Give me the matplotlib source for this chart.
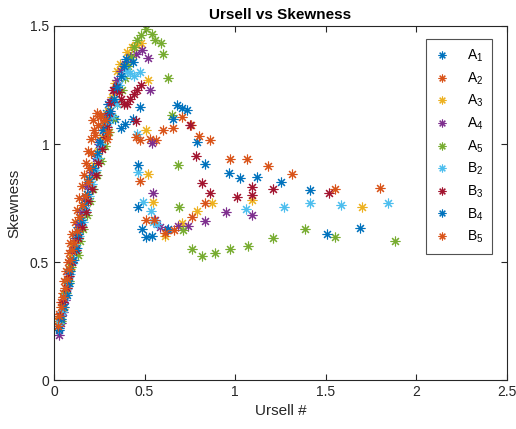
import matplotlib
matplotlib.use("Agg")
import matplotlib.pyplot as plt

plt.rcParams["font.family"] = ["Liberation Sans", "DejaVu Sans"]
plt.rcParams["mathtext.fontset"] = "custom"
plt.rcParams["mathtext.rm"] = "Liberation Sans"
plt.rcParams["mathtext.it"] = "Liberation Sans:italic"

# Ursell number and skewness for each wave gauge
ux_A1 = [0.03, 0.04, 0.05, 0.06, 0.07, 0.08, 0.09, 0.10, 0.115, 0.13, 0.15, 0.17, 0.19, 0.21,
         0.23, 0.25, 0.27, 0.285, 0.30, 0.32, 0.335, 0.37, 0.392, 0.437, 0.472,
         0.676, 0.709, 0.735, 0.789, 0.835, 0.963, 1.026, 1.122, 1.251, 1.414]
sk_A1 = [0.22, 0.27, 0.32, 0.37, 0.42, 0.47, 0.51, 0.55, 0.60, 0.65, 0.71, 0.77, 0.83, 0.89,
         0.95, 1.01, 1.07, 1.13, 1.17, 1.185, 1.106, 1.067, 1.086, 1.105, 1.157,
         1.167, 1.154, 1.143, 1.009, 0.916, 0.876, 0.855, 0.859, 0.838, 0.804]

ux_A2 = [0.02, 0.03, 0.04, 0.05, 0.055, 0.065, 0.075, 0.08, 0.09, 0.10, 0.115, 0.125,
         0.14, 0.155, 0.165, 0.175, 0.19, 0.205, 0.22, 0.215, 0.235, 0.255, 0.275, 0.29,
         0.473, 0.532, 0.562, 0.602, 0.654, 0.704, 0.757, 0.80, 0.859]
sk_A2 = [0.25, 0.28, 0.33, 0.37, 0.42, 0.46, 0.50, 0.54, 0.58, 0.62, 0.67, 0.72,
         0.77, 0.82, 0.87, 0.92, 0.97, 1.02, 1.06, 1.10, 1.13, 1.12, 1.09, 1.04,
         1.019, 1.023, 1.016, 1.058, 1.068, 1.115, 1.079, 1.033, 1.016]

ux_A3 = [0.03, 0.05, 0.06, 0.075, 0.09, 0.10, 0.115, 0.13, 0.145, 0.16, 0.18, 0.20, 0.22,
         0.245, 0.265, 0.285, 0.30, 0.32, 0.335, 0.35, 0.365, 0.40, 0.43, 0.455, 0.48,
         0.516, 0.51, 0.52, 0.547, 0.612, 0.709, 0.787, 0.871, 1.094, 1.699]
sk_A3 = [0.26, 0.30, 0.36, 0.41, 0.47, 0.52, 0.57, 0.62, 0.68, 0.73, 0.79, 0.85, 0.91,
         0.97, 1.03, 1.09, 1.14, 1.20, 1.26, 1.31, 1.34, 1.39, 1.41, 1.42, 1.43,
         1.27, 1.058, 0.875, 0.753, 0.61, 0.666, 0.715, 0.752, 0.762, 0.731]

ux_A4 = [0.03, 0.04, 0.05, 0.06, 0.075, 0.085, 0.10, 0.11, 0.125, 0.14, 0.155, 0.175, 0.19,
         0.21, 0.23, 0.25, 0.27, 0.29, 0.31, 0.33, 0.35, 0.37, 0.39, 0.42, 0.45, 0.483, 0.516,
         0.529, 0.538, 0.547, 0.558, 0.584, 0.626, 0.685, 0.741, 0.831, 0.947, 1.094]
sk_A4 = [0.19, 0.24, 0.29, 0.34, 0.40, 0.45, 0.50, 0.55, 0.60, 0.66, 0.71, 0.77, 0.82,
         0.88, 0.94, 1.00, 1.06, 1.12, 1.18, 1.23, 1.27, 1.31, 1.34, 1.37, 1.38, 1.397, 1.366,
         1.23, 1.005, 0.794, 0.677, 0.649, 0.635, 0.653, 0.653, 0.673, 0.711, 0.698]

ux_A5 = [0.04, 0.05, 0.065, 0.08, 0.095, 0.13, 0.145, 0.16, 0.18, 0.20, 0.215, 0.235, 0.26,
         0.28, 0.305, 0.325, 0.35, 0.375, 0.39, 0.41, 0.425, 0.44, 0.46, 0.48, 0.51, 0.538,
         0.558, 0.591, 0.602, 0.63, 0.65, 0.683, 0.687, 0.713, 0.759, 0.818, 0.888, 0.973,
         1.07, 1.21, 1.387, 1.549, 1.883]
sk_A5 = [0.25, 0.31, 0.37, 0.42, 0.48, 0.53, 0.59, 0.64, 0.70, 0.76, 0.81, 0.87, 0.93,
         0.99, 1.05, 1.11, 1.17, 1.23, 1.28, 1.33, 1.37, 1.41, 1.44, 1.46, 1.489, 1.467,
         1.439, 1.429, 1.38, 1.278, 1.123, 0.912, 0.732, 0.634, 0.556, 0.525, 0.538, 0.555,
         0.569, 0.602, 0.638, 0.608, 0.587]

ux_B2 = [0.03, 0.045, 0.06, 0.075, 0.09, 0.11, 0.125, 0.14, 0.16, 0.175, 0.195, 0.21, 0.23,
         0.245, 0.262, 0.28, 0.30, 0.32, 0.345, 0.36, 0.38, 0.40, 0.42, 0.44, 0.473,
         0.456, 0.466, 0.492, 0.536, 0.547, 0.57, 1.061, 1.271, 1.414, 1.581, 1.842]
sk_B2 = [0.24, 0.29, 0.35, 0.40, 0.45, 0.51, 0.56, 0.61, 0.67, 0.72, 0.78, 0.83, 0.89,
         0.94, 1.00, 1.05, 1.09, 1.12, 1.17, 1.25, 1.29, 1.31, 1.30, 1.29, 1.305,
         1.044, 0.88, 0.753, 0.715, 0.67, 0.66, 0.724, 0.731, 0.748, 0.741, 0.751]

ux_B3 = [0.035, 0.05, 0.07, 0.085, 0.10, 0.12, 0.135, 0.155, 0.175, 0.19, 0.21, 0.23, 0.245,
         0.265, 0.28, 0.295, 0.305, 0.315, 0.325, 0.34, 0.36, 0.37, 0.385, 0.40, 0.42, 0.44,
         0.46, 0.48, 0.455, 0.752, 0.785, 0.816, 0.86, 1.011, 1.094, 1.094, 1.209, 1.516]
sk_B3 = [0.27, 0.33, 0.39, 0.44, 0.50, 0.55, 0.60, 0.65, 0.71, 0.76, 0.81, 0.87, 0.92,
         0.98, 1.03, 1.07, 1.13, 1.18, 1.23, 1.24, 1.22, 1.19, 1.17, 1.17, 1.19, 1.21,
         1.23, 1.25, 1.098, 1.079, 0.951, 0.833, 0.794, 0.776, 0.783, 0.816, 0.81, 0.793]

ux_B4 = [0.025, 0.04, 0.055, 0.07, 0.08, 0.09, 0.105, 0.12, 0.135, 0.15, 0.165, 0.18, 0.195,
         0.215, 0.235, 0.255, 0.27, 0.29, 0.31, 0.33, 0.35, 0.37, 0.385, 0.396, 0.435,
         0.466, 0.462, 0.486, 0.507, 0.538, 0.63, 0.654, 1.509, 1.688]
sk_B4 = [0.21, 0.26, 0.31, 0.36, 0.41, 0.46, 0.51, 0.56, 0.62, 0.68, 0.74, 0.79, 0.85,
         0.90, 0.96, 1.01, 1.06, 1.10, 1.14, 1.19, 1.24, 1.29, 1.33, 1.36, 1.348,
         0.913, 0.732, 0.641, 0.604, 0.611, 0.638, 1.105, 0.617, 0.643]

ux_B5 = [0.02, 0.03, 0.04, 0.05, 0.06, 0.07, 0.08, 0.09, 0.10, 0.11, 0.125, 0.14, 0.155,
         0.17, 0.185, 0.195, 0.205, 0.225, 0.245, 0.26, 0.28, 0.30, 0.29, 0.455,
         0.475, 0.505, 0.551, 0.615, 0.661, 0.759, 0.835, 0.971, 1.065, 1.183, 1.315,
         1.551, 1.80]
sk_B5 = [0.23, 0.27, 0.31, 0.35, 0.39, 0.43, 0.47, 0.51, 0.55, 0.58, 0.63, 0.69, 0.74,
         0.78, 0.84, 0.90, 0.96, 1.04, 1.08, 1.12, 1.10, 1.05, 1.02, 1.03,
         0.845, 0.677, 0.677, 0.621, 0.635, 0.691, 0.752, 0.938, 0.938, 0.907, 0.871,
         0.81, 0.814]

labels = [r"$\mathrm{A}_{1}$", r"$\mathrm{A}_{2}$", r"$\mathrm{A}_{3}$", r"$\mathrm{A}_{4}$",
          r"$\mathrm{A}_{5}$", r"$\mathrm{B}_{2}$", r"$\mathrm{B}_{3}$", r"$\mathrm{B}_{4}$",
          r"$\mathrm{B}_{5}$"]
colors = ["#0072BD", "#D95319", "#EDB120", "#7E2F8E", "#77AC30", "#4DBEEE", "#A2142F",
          "#0072BD", "#D95319"]
series = [(ux_A1, sk_A1), (ux_A2, sk_A2), (ux_A3, sk_A3), (ux_A4, sk_A4), (ux_A5, sk_A5),
          (ux_B2, sk_B2), (ux_B3, sk_B3), (ux_B4, sk_B4), (ux_B5, sk_B5)]

fig = plt.figure(figsize=(5.16, 4.29), dpi=100)
ax = fig.add_axes([0.1047, 0.1142, 0.8779, 0.8252])

for (xs, ys), c, lab in zip(series, colors, labels):
    ax.plot(xs, ys, linestyle="none", marker=(8, 2, 0), markersize=7,
            markeredgewidth=0.8, color=c, label=lab)

ax.set_xlim(0, 2.5)
ax.set_ylim(0, 1.5)
ax.set_xticks([0, 0.5, 1, 1.5, 2, 2.5])
ax.set_xticklabels(["0", "0.5", "1", "1.5", "2", "2.5"])
ax.set_yticks([0, 0.5, 1, 1.5])
ax.set_yticklabels(["0", "0.5", "1", "1.5"])
ax.tick_params(direction="in", top=True, right=True, length=4, width=0.8,
               colors="#262626", labelsize=10)
for s in ax.spines.values():
    s.set_color("#262626")
    s.set_linewidth(0.8)

ax.set_title("Ursell vs Skewness", fontsize=11, fontweight="bold", color="black", pad=5)
ax.set_xlabel("Ursell #", fontsize=11, color="#262626", labelpad=4)
ax.set_ylabel("Skewness", fontsize=11, color="#262626", labelpad=6)

leg = ax.legend(loc="upper right", bbox_to_anchor=(0.967, 0.962), fontsize=10,
                frameon=True, fancybox=False, labelspacing=0.45, handlelength=1.2,
                handletextpad=1.2, borderpad=0.6, borderaxespad=0.0, markerscale=0.8)
leg.get_frame().set_edgecolor("#262626")
leg.get_frame().set_linewidth(0.8)

fig.savefig("out.png", dpi=100)
